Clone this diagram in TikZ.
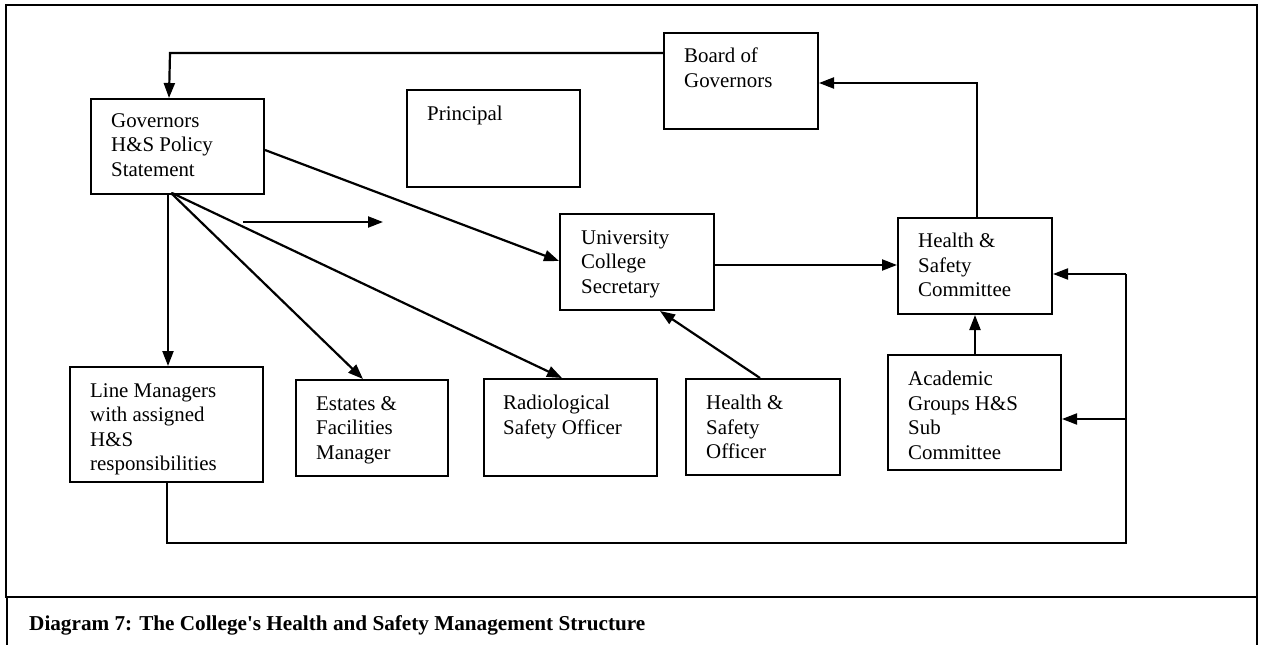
\documentclass[tikz,border=0pt]{standalone}
\usepackage{fontspec}
\setmainfont{Liberation Serif}
\usetikzlibrary{arrows.meta}
\begin{document}
\begin{tikzpicture}[x=1pt,y=-1pt,
  box/.style={draw,line width=2pt,rectangle,inner sep=0pt,anchor=north west},
  txt/.style={anchor=north west,inner sep=0pt,align=left,
    font=\fontsize{20.9}{24.5}\selectfont},
  conn/.style={line width=2.2pt,-{Triangle[length=15pt,width=11pt]}},
  thin/.style={line width=1.5pt},
  thinarrow/.style={line width=1.9pt,-{Triangle[length=15pt,width=11pt]}},
  frame/.style={line width=2.2pt}]
\useasboundingbox (0,0) rectangle (1264,645);
\fill[white] (0,0) rectangle (1264,645);

% outer frame and caption panel
\draw[frame] (6,5) rectangle (1257,597);
\draw[frame] (7,645) -- (7,597) -- (1257,597) -- (1257,645);
\node[anchor=base west,inner sep=0pt,font=\fontsize{21.2}{24}\selectfont\bfseries] (cap) at (29,630)
  {Diagram 7: The College\textquotesingle s Health and Safety Management Structure};

% boxes
\node[box,minimum width=154pt,minimum height=96pt] (bog) at (663,32) {};
\node[txt] (bogt) at (684,48) {Board of\\Governors};

\node[box,minimum width=173pt,minimum height=97pt] (prin) at (406,89) {};
\node[txt] (print) at (427,106) {Principal};

\node[box,minimum width=173pt,minimum height=95pt] (gov) at (90,98) {};
\node[txt] (govt) at (111,113) {Governors\\H\&S Policy\\Statement};

\node[box,minimum width=154pt,minimum height=96pt] (ucs) at (559,213) {};
\node[txt] (ucst) at (581,230) {University\\College\\Secretary};

\node[box,minimum width=154pt,minimum height=96pt] (hsc) at (897,217) {};
\node[txt] (hsct) at (918,233) {Health \&\\Safety\\Committee};

\node[box,minimum width=193pt,minimum height=115pt] (lm) at (69,366) {};
\node[txt] (lmt) at (90,383) {Line Managers\\with assigned\\H\&S\\responsibilities};

\node[box,minimum width=152pt,minimum height=96pt] (est) at (295,379) {};
\node[txt] (estt) at (316,396) {Estates \&\\Facilities\\Manager};

\node[box,minimum width=173pt,minimum height=97pt] (rad) at (483,378) {};
\node[txt] (radt) at (503,395) {Radiological\\Safety Officer};

\node[box,minimum width=154pt,minimum height=96pt] (hso) at (685,378) {};
\node[txt] (hsot) at (706,395) {Health \&\\Safety\\Officer};

\node[box,minimum width=173pt,minimum height=115pt] (acad) at (887,354) {};
\node[txt] (acadt) at (908,371) {Academic\\Groups H\&S\\Sub\\Committee};

% free ends and bends
\coordinate (fa) at (243,222);
\coordinate (fb) at (383,222);
\coordinate (rail) at (1126,543);

% connectors
\draw[conn] (bog.west |- 0,53) -- (170,53) -- (169,98);
\draw[conn] (hsc.north -| 977,0) -- (977,83) -- (bog.east |- 0,83);
\draw[conn] (gov.east |- 0,150) -- (ucs.west |- 0,261);
\draw[conn] (168,193) -- (lm.north -| 168,0);
\draw[conn] (171,193) -- (est.north -| 363,0);
\draw[conn] (172,193) -- (rad.north -| 562,0);
\draw[conn] (fa) -- (fb);
\draw[conn] (ucs.east |- 0,265) -- (hsc.west |- 0,265);
\draw[conn] (hso.north -| 760,0) -- (660,311);
\draw[conn] (acad.north -| 975,0) -- (hsc.south -| 975,0);
\draw[thin] (lm.south -| 167,0) -- (167,543) -- (rail) -- (1126,274);
\draw[thinarrow] (1126,274) -- (hsc.east |- 0,274);
\draw[thinarrow] (1126,419) -- (acad.east |- 0,419);
\end{tikzpicture}
\end{document}
